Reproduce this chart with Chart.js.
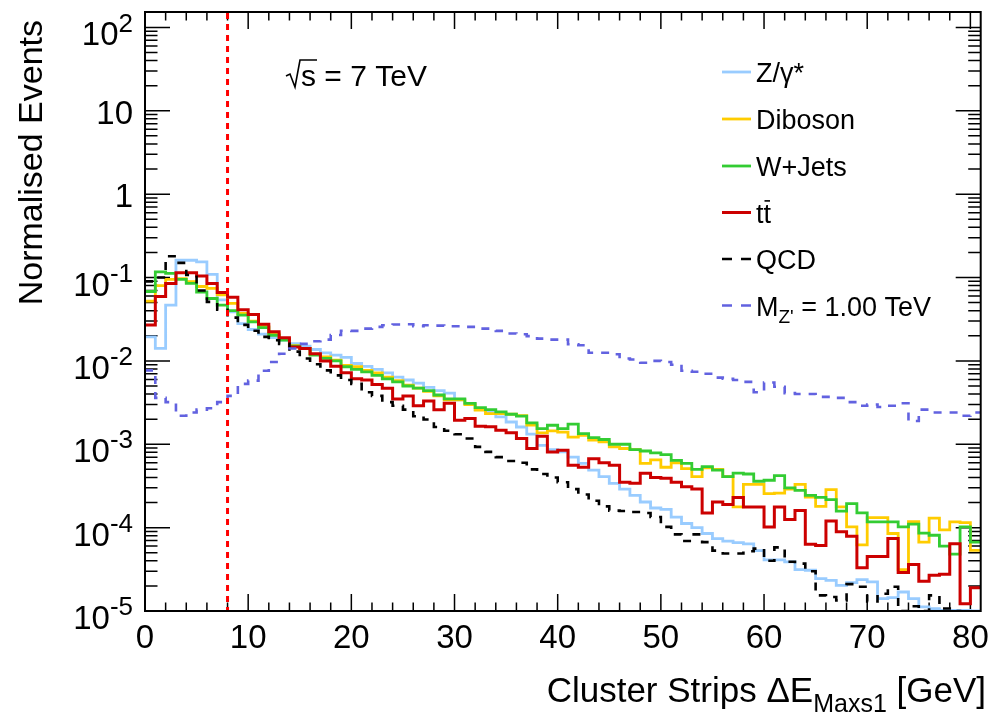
<!DOCTYPE html>
<html>
<head>
<meta charset="utf-8">
<title>Cluster Strips ΔE Maxs1</title>
<script src="https://cdn.jsdelivr.net/npm/chart.js@4.4.1/dist/chart.umd.min.js"></script>
<style>
  html, body { margin: 0; padding: 0; background: #ffffff; }
  canvas { display: block; }
</style>
</head>
<body>
<canvas id="chart" width="995" height="717"></canvas>
<script>
// Binning: 81 bins of 1 GeV starting at 0 GeV
const BIN_START = 0;
const BIN_WIDTH = 1;
const X_MIN = 0;
const X_MAX = 81;
const Y_MIN = 1e-5;
const Y_MAX = 153;

// Axis ticks and labels
const xTickValues = [0, 10, 20, 30, 40, 50, 60, 70, 80];
const xTickLabels = ['0', '10', '20', '30', '40', '50', '60', '70', '80'];
const yTickValues = [1e-5, 1e-4, 1e-3, 1e-2, 1e-1, 1, 10, 100];
const yTickLabels = [['10', '-5'], ['10', '-4'], ['10', '-3'], ['10', '-2'], ['10', '-1'], ['1', ''], ['10', ''], ['10', '2']];

// Selection cut shown as a vertical dotted line
const cutValue = 8;

const seriesNames = ['Z/γ*', 'Diboson', 'W+Jets', 'tt̄', 'QCD', "M_Z' = 1.00 TeV"];

// Normalised event fractions per bin
const zGamma = [
  0.0194, 0.0141, 0.0466, 0.161, 0.161, 0.154, 0.109, 0.054, 0.0387, 0.028,
  0.0238, 0.0209, 0.019, 0.0177, 0.0161, 0.015, 0.0137, 0.0125, 0.0117, 0.011,
  0.0093, 0.0086, 0.0079, 0.0072, 0.0064, 0.0059, 0.0054, 0.0048, 0.0044, 0.0041,
  0.0034, 0.0031, 0.0026, 0.00244, 0.00213, 0.00185, 0.00161, 0.00132, 0.00097, 0.00086,
  0.00081, 0.0007, 0.00059, 0.00049, 0.00041, 0.00034, 0.00029, 0.000244, 0.000203, 0.000172,
  0.000166, 0.000134, 0.000112, 0.0001, 0.000085, 0.000074, 0.000069, 0.000066, 0.000064, 0.000053,
  0.000041, 0.000041, 0.0000388, 0.0000313, 0.0000308, 0.0000244, 0.0000233, 0.0000203, 0.0000219, 0.0000238,
  0.0000223, 0.0000141, 0.0000145, 0.0000169, 0.0000141, 0.0000112, 0.0000107, 0.0000102, 0.0000102, 0.0000102,
  0.00001
];

const diboson = [
  0.052, 0.080, 0.095, 0.097, 0.089, 0.078, 0.074, 0.062, 0.049, 0.037,
  0.030, 0.026, 0.021, 0.018, 0.0152, 0.0141, 0.012, 0.0112, 0.0102, 0.0088,
  0.0085, 0.0077, 0.0072, 0.0064, 0.0058, 0.0051, 0.0047, 0.0043, 0.0038, 0.0034,
  0.0034, 0.0030, 0.00256, 0.00233, 0.00233, 0.0023, 0.0022, 0.0017, 0.00137, 0.00145,
  0.0014, 0.00122, 0.00128, 0.00112, 0.00107, 0.00093, 0.00089, 0.00086, 0.00059, 0.00065,
  0.00053, 0.0006, 0.00051, 0.00041, 0.00052, 0.0005, 0.00041, 0.000177, 0.00033, 0.00033,
  0.000256, 0.00026, 0.00029, 0.00033, 0.000233, 0.00018, 0.000286, 0.000177, 0.000102, 0.000062,
  0.000132, 0.000132, 0.000085, 0.0000313, 0.000118, 0.000067, 0.00013, 0.000094, 0.000117, 0.000115,
  0.0000535
];

const wJets = [
  0.068, 0.117, 0.112, 0.095, 0.085, 0.067, 0.056, 0.0466, 0.040, 0.0353,
  0.0294, 0.025, 0.0203, 0.0177, 0.015, 0.0141, 0.0117, 0.0107, 0.010, 0.0085,
  0.0079, 0.0074, 0.0067, 0.0061, 0.0056, 0.0050, 0.0047, 0.0044, 0.0039, 0.0035,
  0.0035, 0.0031, 0.00275, 0.0026, 0.00244, 0.00229, 0.00217, 0.0018, 0.00154, 0.00169,
  0.00154, 0.00174, 0.00134, 0.0012, 0.00114, 0.001, 0.001, 0.00086, 0.00083, 0.00079,
  0.00075, 0.00064, 0.00059, 0.0005, 0.00054, 0.00049, 0.00041, 0.00045, 0.00044, 0.00036,
  0.00037, 0.00042, 0.0003, 0.00028, 0.000244, 0.00023, 0.000217, 0.000158, 0.000194, 0.00015,
  0.000117, 0.000117, 0.000117, 0.000102, 0.00011, 0.000086, 0.000081, 0.00006, 0.000048, 0.000102,
  0.000067
];

const ttbar = [
  0.027, 0.059, 0.085, 0.114, 0.114, 0.104, 0.085, 0.066, 0.058, 0.041,
  0.036, 0.0275, 0.0223, 0.019, 0.0147, 0.0141, 0.0122, 0.010, 0.0086, 0.0072,
  0.0061, 0.0059, 0.0052, 0.0047, 0.0035, 0.0038, 0.0029, 0.0033, 0.0026, 0.0031,
  0.00194, 0.00203, 0.00164, 0.00162, 0.00147, 0.00137, 0.00117, 0.00089, 0.00125, 0.00081,
  0.00085, 0.00056, 0.00053, 0.00067, 0.0006, 0.00056, 0.00035, 0.00034, 0.00045, 0.0004,
  0.00039, 0.00035, 0.00031, 0.00029, 0.00015, 0.000203, 0.00019, 0.00023, 0.000177, 0.000177,
  0.000102, 0.000177, 0.000125, 0.000161, 0.000063, 0.000061, 0.00012, 0.000089, 0.000079, 0.000033,
  0.000045, 0.000045, 0.000074, 0.000029, 0.000036, 0.0000227, 0.0000268, 0.0000275, 0.000064, 0.0000122,
  0.000019
];

const qcd = [
  0.09, 0.10, 0.18, 0.15, 0.107, 0.070, 0.051, 0.041, 0.033, 0.027,
  0.023, 0.0194, 0.0177, 0.016, 0.0129, 0.0107, 0.0091, 0.0077, 0.0067, 0.0059,
  0.0053, 0.0042, 0.0038, 0.0032, 0.0029, 0.0026, 0.00217, 0.00198, 0.00161, 0.00145,
  0.00132, 0.00117, 0.00093, 0.00081, 0.0007, 0.00063, 0.0006, 0.0005, 0.00044, 0.0004,
  0.00035, 0.00029, 0.00025, 0.00021, 0.00018, 0.00016, 0.000158, 0.000154, 0.00015, 0.000134,
  0.000102, 0.000083, 0.000069, 0.000083, 0.000067, 0.000053, 0.000049, 0.000049, 0.000052, 0.000056,
  0.00004, 0.000058, 0.000039, 0.000037, 0.00003, 0.0000154, 0.0000147, 0.0000134, 0.000021, 0.0000195,
  0.000013, 0.0000161, 0.0000195, 0.00001, 0.0000114, 0.00001, 0.0000154, 0.0000107, 0.00001, 0.000009,
  0.000009
];

const zPrime = [
  0.0077, 0.0036, 0.0032, 0.0022, 0.0024, 0.0026, 0.0027, 0.0032, 0.0038, 0.0053,
  0.0058, 0.0076, 0.0097, 0.0122, 0.0141, 0.016, 0.0172, 0.018, 0.0204, 0.023,
  0.0229, 0.0244, 0.0256, 0.0268, 0.0273, 0.0275, 0.026, 0.0268, 0.0265, 0.026,
  0.026, 0.0256, 0.0244, 0.0244, 0.0229, 0.0213, 0.0209, 0.0198, 0.0185, 0.018,
  0.018, 0.0158, 0.0154, 0.0125, 0.0125, 0.012, 0.0107, 0.0104, 0.0095, 0.01,
  0.0097, 0.009, 0.0076, 0.0074, 0.007, 0.0063, 0.0061, 0.0059, 0.0056, 0.0042,
  0.0055, 0.0049, 0.0041, 0.004, 0.004, 0.0037, 0.0037, 0.0036, 0.0032, 0.0029,
  0.003, 0.0028, 0.0029, 0.0031, 0.0019, 0.0026, 0.0024, 0.0024, 0.0024, 0.0022,
  0.0024
];

const FONT = "'Liberation Sans', Arial, Helvetica, sans-serif";

// Turn per-bin contents into an outline: a point at both edges of every bin
function histOutline(values) {
  const pts = [];
  values.forEach((v, i) => {
    const lo = BIN_START + i * BIN_WIDTH;
    pts.push({ x: lo, y: v }, { x: lo + BIN_WIDTH, y: v });
  });
  return pts;
}

function histDataset(label, values, color, width, dash, order) {
  return {
    label,
    data: histOutline(values),
    borderColor: color,
    backgroundColor: color,
    borderWidth: width,
    borderDash: dash,
    borderJoinStyle: 'miter',
    borderCapStyle: 'butt',
    pointRadius: 0,
    pointHoverRadius: 0,
    tension: 0,
    fill: false,
    order
  };
}

const styles = [
  { color: '#99ccff', width: 2.8, dash: [] },
  { color: '#ffcc00', width: 2.8, dash: [] },
  { color: '#33cc33', width: 2.8, dash: [] },
  { color: '#cc0000', width: 3, dash: [] },
  { color: '#000000', width: 2.6, dash: [8, 8] },
  { color: '#6262e0', width: 2.6, dash: [8, 8] }
];
const seriesValues = [zGamma, diboson, wJets, ttbar, qcd, zPrime];

// Rich text pieces: sub/sup scripts and overbars
const legendText = [
  [{ t: 'Z/γ*' }],
  [{ t: 'Diboson' }],
  [{ t: 'W+Jets' }],
  [{ t: 't' }, { t: 't', bar: true }],
  [{ t: 'QCD' }],
  [{ t: 'M' }, { t: "Z'", sub: true }, { t: ' = 1.00 TeV' }]
];

function drawRich(ctx, parts, x, baseline, size, align, scriptScale) {
  const sc = scriptScale || 0.7;
  const fontFor = p => `${(p.sub || p.sup) ? Math.round(size * sc) : size}px ${FONT}`;
  let total = 0;
  const widths = parts.map(p => {
    ctx.font = fontFor(p);
    const w = ctx.measureText(p.t).width;
    total += w;
    return w;
  });
  let cx = align === 'right' ? x - total : x;
  ctx.textAlign = 'left';
  ctx.textBaseline = 'alphabetic';
  parts.forEach((p, i) => {
    ctx.font = fontFor(p);
    let by = baseline;
    if (p.sub) by += size * 0.28;
    if (p.sup) by -= size * 0.42;
    ctx.fillText(p.t, cx, by);
    if (p.bar) {
      ctx.save();
      ctx.lineWidth = 1.6;
      ctx.beginPath();
      ctx.moveTo(cx + 1, by - size * 0.8);
      ctx.lineTo(cx + widths[i] - 1, by - size * 0.8);
      ctx.stroke();
      ctx.restore();
    }
    cx += widths[i];
  });
  return total;
}

// Frame, inward ticks and tick labels in the usual physics style
const frameAndAxes = {
  id: 'frameAndAxes',
  beforeDatasetsDraw(chart) {
    const { ctx, chartArea: a, scales: { x, y } } = chart;
    ctx.save();
    ctx.strokeStyle = '#000';
    ctx.fillStyle = '#000';
    ctx.lineWidth = 1.5;
    ctx.beginPath();
    for (let v = X_MIN; v <= 80; v += 2) {
      const px = x.getPixelForValue(v);
      const len = v % 10 === 0 ? 17 : 8.5;
      ctx.moveTo(px, a.bottom); ctx.lineTo(px, a.bottom - len);
      ctx.moveTo(px, a.top); ctx.lineTo(px, a.top + len);
    }
    for (let e = -5; e <= 2; e++) {
      for (let m = 1; m <= 9; m++) {
        const v = m * Math.pow(10, e);
        if (v > Y_MAX) break;
        const py = y.getPixelForValue(v);
        const len = m === 1 ? 25 : 12.5;
        ctx.moveTo(a.left, py); ctx.lineTo(a.left + len, py);
        ctx.moveTo(a.right, py); ctx.lineTo(a.right - len, py);
      }
    }
    ctx.stroke();

    // x tick labels
    ctx.font = `33px ${FONT}`;
    ctx.textAlign = 'center';
    ctx.textBaseline = 'alphabetic';
    xTickValues.forEach((v, i) => {
      ctx.fillText(xTickLabels[i], x.getPixelForValue(v), a.bottom + 37);
    });

    // y tick labels
    yTickValues.forEach((v, i) => {
      const py = y.getPixelForValue(v);
      const [base, sup] = yTickLabels[i];
      const parts = sup ? [{ t: base }, { t: sup, sup: true }] : [{ t: base }];
      drawRich(ctx, parts, a.left - 12, py + (sup ? 18 : 13), 33, 'right', 0.78);
    });

    // axis titles
    drawRich(ctx, [{ t: 'Cluster Strips ΔE' }, { t: 'Maxs1', sub: true }, { t: ' [GeV]' }],
      986, 702, 35, 'right');
    ctx.save();
    ctx.translate(42, 20);
    ctx.rotate(-Math.PI / 2);
    ctx.font = `34px ${FONT}`;
    ctx.textAlign = 'right';
    ctx.fillText('Normalised Events', 0, 0);
    ctx.restore();
    ctx.restore();
  },
  afterDatasetsDraw(chart) {
    const { ctx, chartArea: a, scales: { x } } = chart;
    ctx.save();
    // cut line
    const cx = x.getPixelForValue(cutValue);
    ctx.strokeStyle = '#ff0000';
    ctx.lineWidth = 3;
    ctx.setLineDash([6, 5]);
    ctx.beginPath();
    ctx.moveTo(cx, a.top + 1);
    ctx.lineTo(cx, a.bottom - 1);
    ctx.stroke();
    ctx.setLineDash([]);

    // frame on top
    ctx.strokeStyle = '#000';
    ctx.lineWidth = 2;
    ctx.strokeRect(a.left, a.top, a.right - a.left, a.bottom - a.top);

    // legend
    const rowY = [72, 119, 166, 212.5, 259, 305.5];
    styles.forEach((s, i) => {
      const yy = rowY[i];
      ctx.strokeStyle = s.color;
      ctx.lineWidth = s.width;
      ctx.beginPath();
      if (s.dash.length) {
        ctx.moveTo(722, yy); ctx.lineTo(732, yy);
        ctx.moveTo(741, yy); ctx.lineTo(751, yy);
      } else {
        ctx.moveTo(722, yy); ctx.lineTo(751, yy);
      }
      ctx.stroke();
      ctx.fillStyle = '#000';
      ctx.strokeStyle = '#000';
      drawRich(ctx, legendText[i], 756, yy + 10, 27, 'left');
    });

    // centre-of-mass energy
    const b = 86, s0 = 286;
    ctx.strokeStyle = '#000';
    ctx.lineWidth = 1.6;
    ctx.font = `30px ${FONT}`;
    const sw = ctx.measureText('s').width;
    ctx.beginPath();
    ctx.moveTo(s0, b - 10);
    ctx.lineTo(s0 + 4, b - 12);
    ctx.lineTo(s0 + 9, b + 1);
    ctx.lineTo(s0 + 14, b - 26);
    ctx.lineTo(s0 + 16 + sw, b - 26);
    ctx.stroke();
    ctx.fillStyle = '#000';
    drawRich(ctx, [{ t: 's = 7 TeV' }], s0 + 15, b, 30, 'left');
    ctx.restore();
  }
};

new Chart(document.getElementById('chart'), {
  type: 'line',
  data: {
    datasets: seriesValues.map((vals, i) =>
      histDataset(seriesNames[i], vals, styles[i].color, styles[i].width, styles[i].dash, 6 - i))
  },
  options: {
    responsive: false,
    animation: false,
    events: [],
    layout: { padding: { left: 145, right: 14.3, top: 12, bottom: 106 } },
    plugins: { legend: { display: false }, tooltip: { enabled: false } },
    scales: {
      x: { type: 'linear', min: X_MIN, max: X_MAX, display: false },
      y: { type: 'logarithmic', min: Y_MIN, max: Y_MAX, display: false }
    }
  },
  plugins: [frameAndAxes]
});
</script>
</body>
</html>
